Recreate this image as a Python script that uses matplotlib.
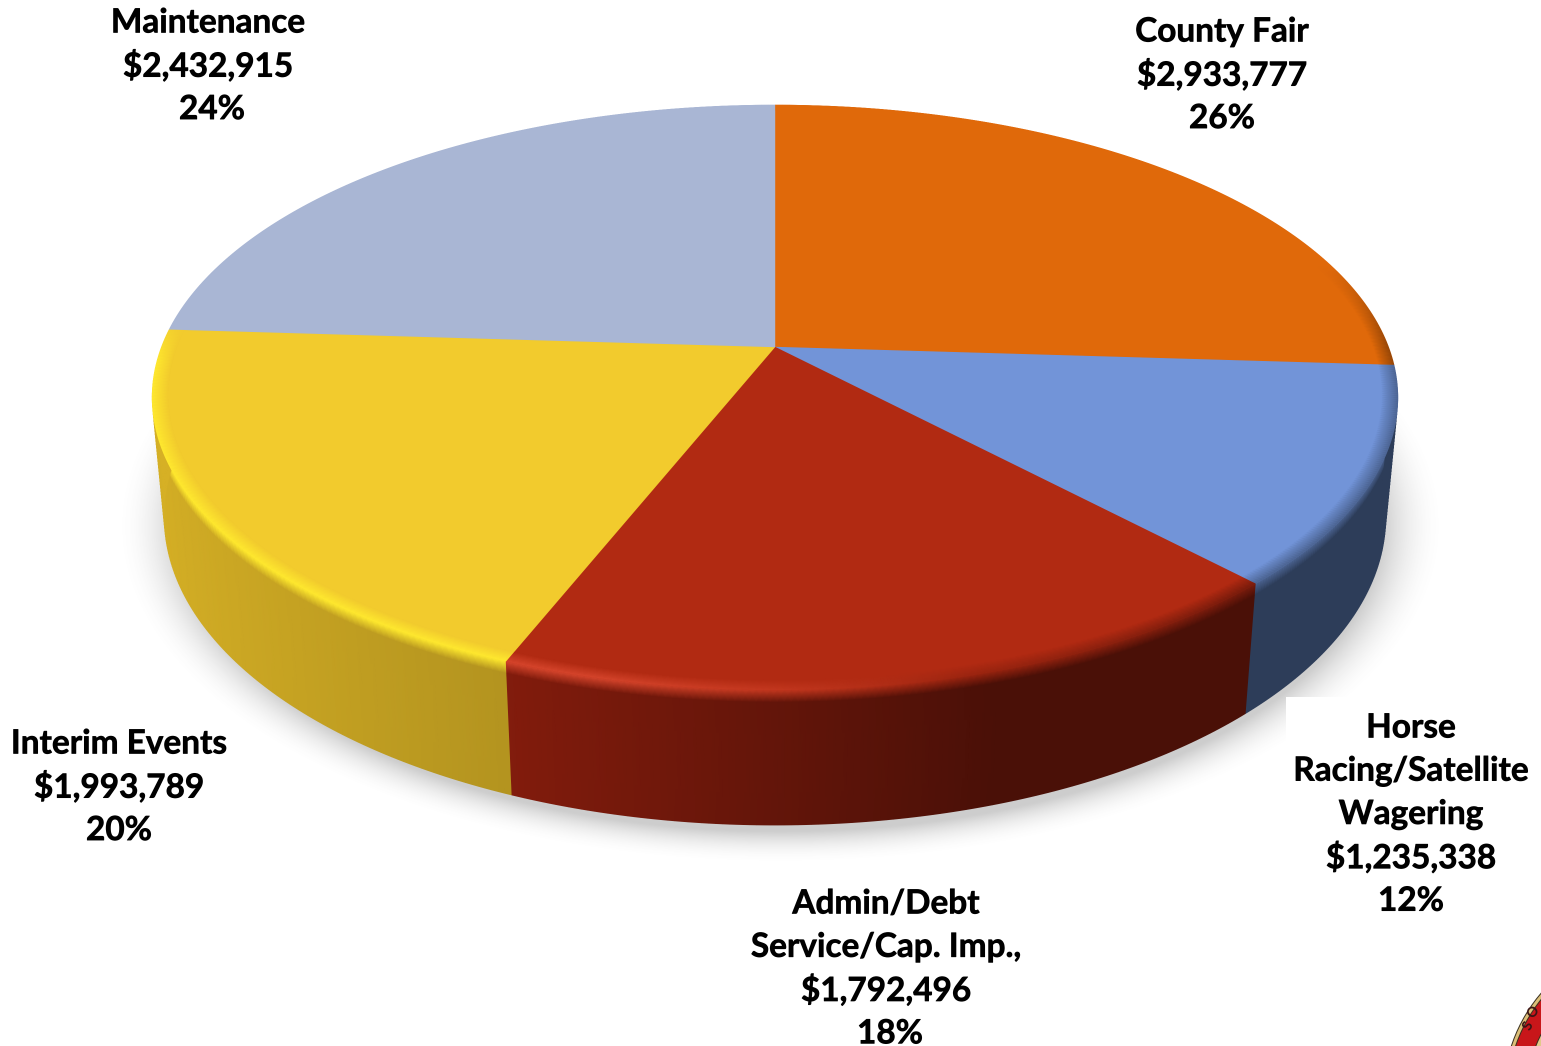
import numpy as np
import matplotlib
matplotlib.use('Agg')
import matplotlib.patheffects as pe
import matplotlib.pyplot as plt
from matplotlib.colors import to_rgb
from matplotlib.patches import Circle, Rectangle

plt.rcParams['font.family'] = ['Lato', 'DejaVu Sans']

categories = ['County Fair', 'Horse Racing/Satellite Wagering', 'Admin/Debt Service/Cap. Imp.,',
              'Interim Events', 'Maintenance']
dollars = ['$2,933,777', '$1,235,338', '$1,792,496', '$1,993,789', '$2,432,915']
percents = [26, 12, 18, 20, 24]

top_colors = ['#e0690a', '#7294d8', '#b12a12', '#f2cb2d', '#a9b6d4']
side_colors = ['#c05a08', '#5e80ba', '#9b210f', '#d6b025', '#8a94ad']
glow_colors = ['#e0690a', '#7294d8', '#d6452c', '#ffe92e', '#a9b6d4']

# label lines: name lines, then x of the name block, x of the last line, first y
label_names = [['County Fair'], ['Horse', 'Racing/Satellite', 'Wagering'], ['Admin/Debt', 'Service/Cap. Imp.,'],
               ['Interim Events'], ['Maintenance']]
label_x = [1222, 1411, 886, 119, 208]
pct_x = [1222, 1411, 890, 119, 212]
label_y = [32, 728, 904, 744, 23]

W, H = 1541, 1046
CX, CY = 775, 347
SS = 3  # draw oversized, averaged down when saving


def project(u, v, z=0.0):
    # perspective view of the disc, top rim (z=0) blended to bottom rim (z=1)
    d1 = 1 + 0.1726 * v
    d2 = 1 + 0.17 * v
    x1, y1 = CX + 613.6 * u / d1, CY - 283.8 * v / d1
    x2, y2 = CX + 602 * u / d2, 465 - 299 * v / d2
    return (1 - z) * x1 + z * x2, (1 - z) * y1 + z * y2


def mix(a, b, w):
    return np.asarray(a) * (1 - w) + np.asarray(b) * w


fig = plt.figure(figsize=(W / 100, H / 100), dpi=100 * SS)
ax = fig.add_axes([0, 0, 1, 1])
ax.set_xlim(0, W)
ax.set_ylim(H, 0)
ax.axis('off')

# soft shadow under the disc
gx, gy = np.meshgrid(np.arange(0, W, 2), np.arange(0, H, 2))
dist = np.sqrt(((gx - 780) / 640) ** 2 + ((gy - 525) / 325) ** 2)
fade = np.clip((1.04 - dist) / 0.10, 0, 1)
shadow = np.zeros(gx.shape + (4,))
shadow[..., :3] = 0.35
shadow[..., 3] = 0.3 * fade ** 2
ax.imshow(shadow, extent=(0, W, H, 0), aspect='auto', zorder=1, interpolation='bilinear')

# the label box hides the shadow at lower right
ax.add_patch(Rectangle((1286, 697), W - 1286, H - 697, fc='white', ec='none', zorder=1.5))

edges = np.radians(np.concatenate([[0], np.cumsum(percents)]) * 3.6)

for i in range(len(percents)):
    th = np.linspace(edges[i], edges[i + 1], 120)
    u, v = np.sin(th), np.cos(th)
    top = to_rgb(top_colors[i])
    side = np.array(to_rgb(side_colors[i]))
    shade = np.interp(u, [-1, -0.37, 0.3, 1], [1.0, 0.84, 0.48, 0.48])[:, None]
    side_rgb = side * shade

    w = (np.clip((0.25 - u) / 0.5, 0, 1) * np.clip((0.1 - v) / 0.15, 0, 1))[:, None]
    m = (0.55 * np.clip(u * 1.5, 0, 1) * np.clip((0.3 - v) / 0.3, 0, 1))[:, None]
    edge_rgb = mix(mix(top, side_rgb, m), to_rgb(glow_colors[i]), w)

    # side wall, lighter just under the rim
    zs = np.array([0, 0.09, 1.0])
    xs = np.array([project(u, v, z)[0] for z in zs])
    ys = np.array([project(u, v, z)[1] for z in zs])
    cs = np.stack([edge_rgb, side_rgb, side_rgb])
    ax.pcolormesh(xs, ys, cs, shading='gouraud', zorder=2 + 0.1 * (1 - v.mean()))

    # flat top of the slice
    px, py = project(u, v)
    ax.fill(np.r_[CX, px], np.r_[CY, py], color=top, lw=0.3, zorder=3)

    # rim band on the top face
    rs = np.array([0.975, 1.0])
    xs = np.array([project(r * u, r * v)[0] for r in rs])
    ys = np.array([project(r * u, r * v)[1] for r in rs])
    cs = np.stack([np.tile(top, (len(th), 1)), edge_rgb])
    ax.pcolormesh(xs, ys, cs, shading='gouraud', zorder=4)

ax.set_xlim(0, W)
ax.set_ylim(H, 0)

# labels
line_h = 43.3
bold = [pe.withStroke(linewidth=0.5, foreground='black')]
for i in range(len(categories)):
    lines = label_names[i] + [dollars[i]]
    y = label_y[i]
    for line in lines:
        ax.text(label_x[i], y, line, ha='center', va='center', fontsize=24, fontweight='bold',
                color='black', zorder=6, path_effects=bold)
        y += line_h
    ax.text(pct_x[i], y, '%d%%' % percents[i], ha='center', va='center', fontsize=24, fontweight='bold',
            color='black', zorder=6, path_effects=bold)

# corner of the seal
for r, c in [(157, '#3a3020'), (156, '#dcbf78'), (153, '#3a3020'), (152, '#c8161a'),
             (134, '#3a3020'), (133, '#e2c98a'), (128, '#f5efe0')]:
    ax.add_patch(Circle((1660, 1095), r, fc=c, ec='none', zorder=5))
ax.text(1528, 1026, 'S', rotation=62, ha='center', va='center', fontsize=10, fontweight='bold', color='#3a1515', zorder=6)
ax.text(1533, 1012, 'O', rotation=52, ha='center', va='center', fontsize=10, fontweight='bold', color='#3a1515', zorder=6)

fig.patch.set_facecolor('white')
fig.canvas.draw()
big = np.asarray(fig.canvas.buffer_rgba())[..., :3].astype(float)
small = big[:H * SS, :W * SS].reshape(H, SS, W, SS, 3).mean(axis=(1, 3))
plt.imsave('out.png', small.astype(np.uint8))
